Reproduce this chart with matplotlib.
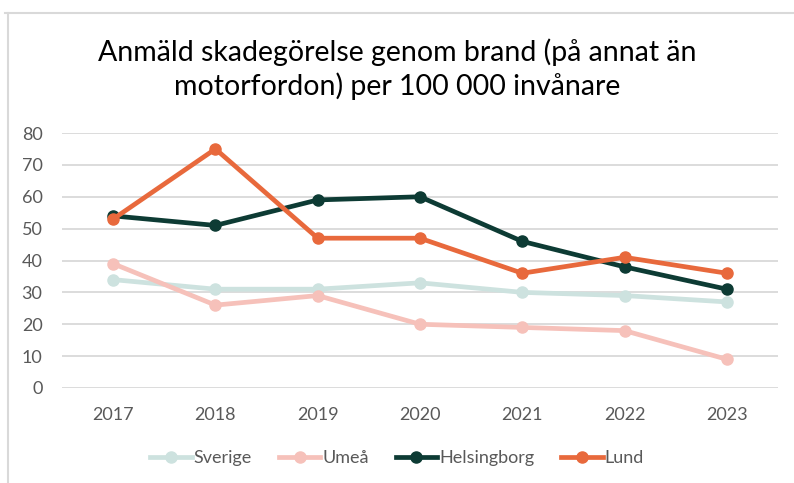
import matplotlib
matplotlib.use("Agg")
import matplotlib.pyplot as plt
from matplotlib.lines import Line2D

years = ["2017", "2018", "2019", "2020", "2021", "2022", "2023"]
sverige = [34, 31, 31, 33, 30, 29, 27]
umea = [39, 26, 29, 20, 19, 18, 9]
helsingborg = [54, 51, 59, 60, 46, 38, 31]
lund = [53, 75, 47, 47, 36, 41, 36]
series_names = ["Sverige", "Umeå", "Helsingborg", "Lund"]
colors = ["#CDE2DF", "#F6C1BA", "#0D3B34", "#E8693C"]
yticks = [0, 10, 20, 30, 40, 50, 60, 70, 80]
title = "Anmäld skadegörelse genom brand (på annat än\nmotorfordon) per 100 000 invånare"

plt.rcParams['font.family'] = ['Lato', 'DejaVu Sans']

fig = plt.figure(figsize=(7.94, 4.83), dpi=100)
ax = fig.add_axes([62/794, 1-388/483, (778-62)/794, (388-133)/483])

x = list(range(len(years)))
for vals, name, c in zip([sverige, umea, helsingborg, lund], series_names, colors):
    ax.plot(x, vals, color=c, lw=3.4, marker='o', ms=8, label=name,
            solid_capstyle='round', solid_joinstyle='round')

ax.set_xlim(-0.5, len(years) - 0.5)
ax.set_ylim(0, 80)
ax.set_yticks(yticks)
ax.set_xticks(x)
ax.set_xticklabels(years)
ax.grid(axis='y', color='#D9D9D9', lw=1.3)
ax.set_axisbelow(True)
for s in ax.spines.values():
    s.set_visible(False)
ax.tick_params(length=0, labelsize=13, colors='#595959')
ax.tick_params(axis='y', pad=14)
ax.tick_params(axis='x', pad=14)

fig.text(0.5, 1 - 69/483, title, ha='center', va='center', fontsize=20.5,
         color='#000000', linespacing=1.3)

handles = [Line2D([], [], color=c, lw=3.4, marker='o', ms=8) for c in colors]
fig.legend(handles, series_names, loc='center', bbox_to_anchor=(0.5, 1 - 458/483),
           ncol=4, frameon=False, fontsize=13, labelcolor='#595959',
           handlelength=2.3, handletextpad=0.1, columnspacing=1.5)

# chart frame
fig.add_artist(Line2D([5/794, 793/794], [1-13/483, 1-13/483], transform=fig.transFigure,
                      color='#D9D9D9', lw=1.5))
fig.add_artist(Line2D([8/794, 8/794], [0, 1-13/483], transform=fig.transFigure,
                      color='#D9D9D9', lw=1.5))

fig.savefig("out.png", dpi=100)
